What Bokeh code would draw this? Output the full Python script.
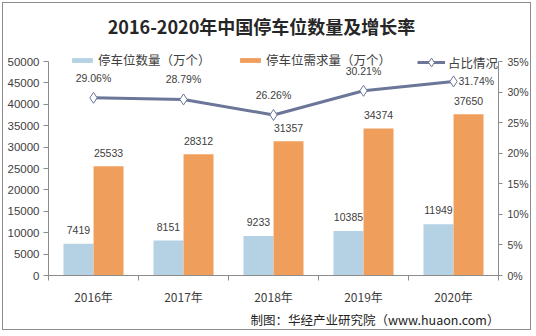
from bokeh.plotting import figure
from bokeh.models import (Range1d, LinearAxis, FixedTicker, ColumnDataSource,
                          LabelSet, Label, Legend, LegendItem, PrintfTickFormatter, Title)
from bokeh.core.properties import value
from bokeh.transform import dodge
from bokeh.embed import file_html
from bokeh.resources import INLINE

# ---------------- data ----------------
years = ["2016年", "2017年", "2018年", "2019年", "2020年"]
supply = [7419, 8151, 9233, 10385, 11949]          # 停车位数量（万个）
demand = [25533, 28312, 31357, 34374, 37650]       # 停车位需求量（万个）
ratio = [29.06, 28.79, 26.26, 30.21, 31.74]        # 占比情况 (%)
left_ticks = list(range(0, 50001, 5000))
right_ticks = list(range(0, 36, 5))
title_text = "2016-2020年中国停车位数量及增长率"
series_names = ["停车位数量（万个）", "停车位需求量（万个）", "占比情况"]
source_text = "制图：华经产业研究院（www.huaon.com）"

# ---------------- layout (page pixels) ----------------
O = 3                       # page offset of the figure canvas (margin + border)
FIG_W, FIG_H = 529, 328
FL, FR, FT, FB = 48, 498, 61, 275   # plot area: left/right, y of 50000 / y of 0
Y_MAX, PCT_MAX = 50000, 35
n = len(years)
centers = [i + 0.5 for i in range(n)]   # category slot centres on the index axis
stretch = (FB - O) / (FB - FT)          # frame reaches up to the canvas top

BLUE = "#B4D2E4"
ORANGE = "#F09E5C"
LINE = "#6B7699"
AXIS = "#8C8C8C"
TXT = "#404040"
NUM_FONT = "Liberation Sans"
CJK_FONT = "Noto Sans CJK SC"


def sx2d(sx):
    return (sx - FL) / (FR - FL) * n


def sy2d(sy):
    return (FB - sy) / (FB - FT) * Y_MAX


p = figure(width=FIG_W, height=FIG_H, x_range=Range1d(0, n),
           y_range=Range1d(0, Y_MAX * stretch), output_backend="svg",
           toolbar_location=None, x_axis_location=None,
           min_border_left=FL - O, min_border_right=O + FIG_W - FR,
           min_border_top=0, min_border_bottom=O + FIG_H - FB)
p.margin = (2, 0, 0, 2)
p.styles = {"border": "1px solid #8C8C8C"}
p.outline_line_color = None
p.xgrid.visible = False
p.ygrid.visible = False
p.background_fill_color = "white"
p.border_fill_color = "white"

p.extra_y_ranges = {"pct": Range1d(0, PCT_MAX * stretch)}

src = ColumnDataSource(dict(
    xc=centers, supply=supply, demand=demand, ratio=ratio,
    supply_txt=[str(v) for v in supply],
    demand_txt=[str(v) for v in demand],
    ratio_txt=[f"{v:.2f}%" for v in ratio],
))

b1 = p.vbar(x=dodge("xc", -0.167), top="supply", width=0.333,
            source=src, fill_color=BLUE, line_color=None)
b2 = p.vbar(x=dodge("xc", 0.167), top="demand", width=0.333,
            source=src, fill_color=ORANGE, line_color=None)
ln = p.line(x="xc", y="ratio", source=src, y_range_name="pct",
            line_color=LINE, line_width=3)
mk = p.scatter(x="xc", y="ratio", source=src, y_range_name="pct", marker="diamond",
               size=11, fill_color="white", line_color=LINE, line_width=1)

# ---- axes ----
yax = p.yaxis[0]
yax.ticker = FixedTicker(ticks=left_ticks)
yax.bounds = (0, Y_MAX)
yax.axis_line_color = AXIS
yax.major_tick_line_color = AXIS
yax.major_tick_out = 5
yax.major_tick_in = 0
yax.minor_tick_line_color = None
yax.major_label_text_font = NUM_FONT
yax.major_label_text_font_size = "11.5px"
yax.major_label_text_color = TXT
yax.major_label_standoff = 4

rax = LinearAxis(y_range_name="pct", ticker=FixedTicker(ticks=right_ticks),
                 formatter=PrintfTickFormatter(format="%d%%"), bounds=(0, PCT_MAX))
rax.axis_line_color = AXIS
rax.major_tick_line_color = AXIS
rax.major_tick_out = 4
rax.major_tick_in = 0
rax.minor_tick_line_color = None
rax.major_label_text_font = NUM_FONT
rax.major_label_text_font_size = "10.5px"
rax.major_label_text_color = TXT
rax.major_label_standoff = 5
p.add_layout(rax, "right")

xax = LinearAxis(ticker=FixedTicker(ticks=centers, minor_ticks=list(range(n + 1))),
                 major_label_overrides={c: y for c, y in zip(centers, years)})
xax.axis_line_color = AXIS
xax.major_tick_line_color = None
xax.major_tick_out = 0
xax.major_tick_in = 0
xax.minor_tick_line_color = AXIS
xax.minor_tick_out = 5
xax.minor_tick_in = 0
xax.major_label_text_font = CJK_FONT
xax.major_label_text_font_size = "12px"
xax.major_label_text_color = TXT
xax.major_label_standoff = 7
p.add_layout(xax, "below")

p.add_layout(Title(text=source_text, align="left", offset=250 - FL, standoff=0,
                   text_font=CJK_FONT, text_font_size="12.5px",
                   text_font_style="normal", text_color="#222222"), "below")

# ---- data labels ----
lab_kw = dict(source=src, text_align="center", text_baseline="middle",
              text_font=value(NUM_FONT), text_font_size="10.5px", text_color=TXT)
p.add_layout(LabelSet(x=dodge("xc", -0.167), y="supply",
                      text="supply_txt", y_offset=14, **lab_kw))
p.add_layout(LabelSet(x=dodge("xc", 0.167), y="demand",
                      text="demand_txt", y_offset=13, **lab_kw))

src_a = ColumnDataSource(dict(xc=centers[:-1], ratio=ratio[:-1],
                              ratio_txt=[f"{v:.2f}%" for v in ratio[:-1]]))
src_b = ColumnDataSource(dict(xc=centers[-1:], ratio=ratio[-1:],
                              ratio_txt=[f"{v:.2f}%" for v in ratio[-1:]]))
p.add_layout(LabelSet(x="xc", y="ratio", text="ratio_txt", y_range_name="pct",
                      source=src_a, text_align="center", text_baseline="middle",
                      y_offset=20, text_font=value(NUM_FONT), text_font_size="10.5px",
                      text_color=TXT))
p.add_layout(LabelSet(x="xc", y="ratio", text="ratio_txt", y_range_name="pct",
                      source=src_b, text_align="left", text_baseline="middle",
                      x_offset=5, text_font=value(NUM_FONT), text_font_size="10.5px",
                      text_color=TXT))

# ---- legends ----
def make_legend(label, renderers, x, y, gw, gh):
    lg = Legend(items=[LegendItem(label=label, renderers=renderers)],
                location=(x - FL, y), orientation="horizontal",
                glyph_width=gw, glyph_height=gh, label_standoff=3, padding=0,
                margin=0, spacing=0, border_line_color=None,
                background_fill_alpha=0, label_text_font=CJK_FONT,
                label_text_font_size="12.5px", label_text_color=TXT,
                label_height=14)
    p.add_layout(lg)


make_legend(series_names[0], [b1], 69, FB - 62 - 7, 26, 6)
make_legend(series_names[1], [b2], 237, FB - 62 - 7, 26, 6)
make_legend(series_names[2], [ln, mk], 417, FB - 62 - 11, 28, 22)

# ---- title ----
p.add_layout(Label(x=sx2d(261), y=sy2d(25), text=title_text, text_align="center",
                   text_baseline="middle", text_font=CJK_FONT, text_font_style="bold",
                   text_font_size="18px", text_color="#262626"))

open("out.html", "w").write(file_html(p, INLINE))
